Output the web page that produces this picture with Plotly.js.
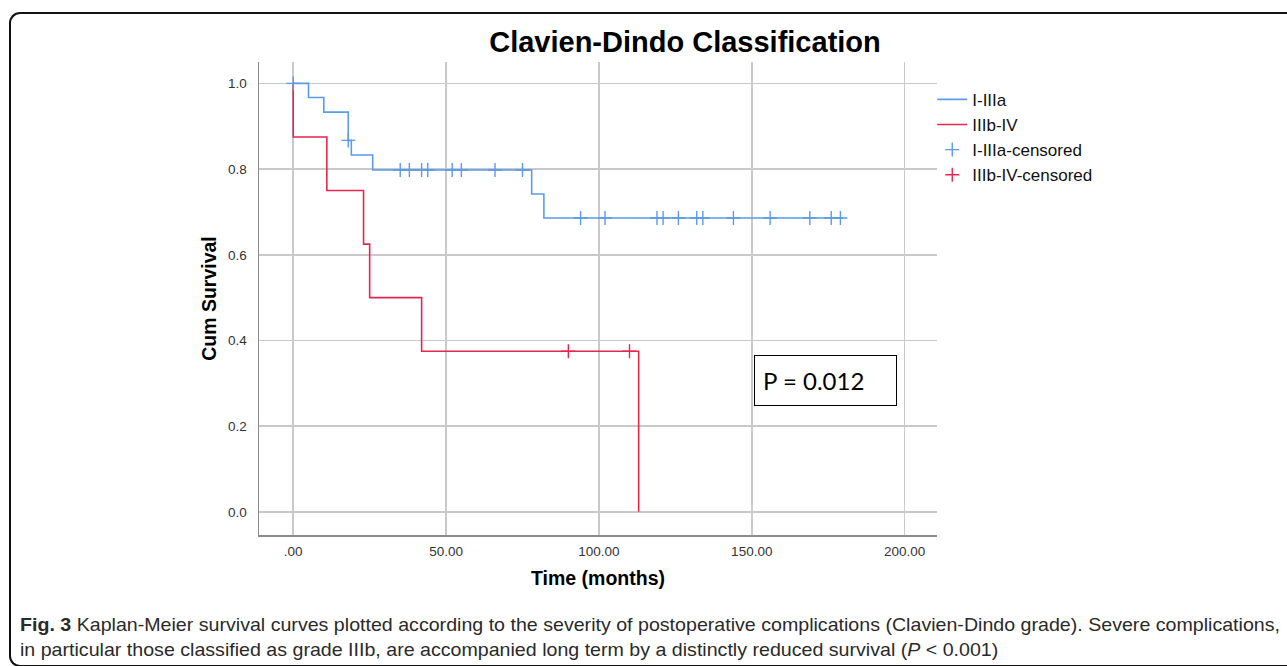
<!DOCTYPE html>
<html>
<head>
<meta charset="utf-8">
<script src="https://cdn.plot.ly/plotly-3.0.1.min.js"></script>
<style>
  html, body { margin: 0; padding: 0; background: #fff; }
  #wrap { position: relative; width: 1287px; height: 666px; overflow: hidden; }
  #chart { position: absolute; left: 0; top: 0; width: 1287px; height: 666px; }
  #frame { position: absolute; left: 9px; top: 12px; width: 1300px; height: 651px;
           border-left: 2px solid #111; border-top: 2px solid #111; border-bottom: 2px solid #111;
           border-top-left-radius: 11px; border-bottom-left-radius: 11px; pointer-events: none; }
  .cap { position: absolute; left: 20px; white-space: nowrap; color: #2a2a2a;
         font-family: "Liberation Sans", Arial, sans-serif;
         font-size: 19px; transform-origin: 0 50%; }
  #cap1 { top: 614px; }
  #cap2 { top: 639px; }
</style>
</head>
<body>
<div id="wrap">
  <div id="chart"></div>
  <div id="frame"></div>
  <div class="cap" id="cap1"><b>Fig. 3</b> Kaplan-Meier survival curves plotted according to the severity of postoperative complications (Clavien-Dindo grade). Severe complications,</div>
  <div class="cap" id="cap2">in particular those classified as grade IIIb, are accompanied long term by a distinctly reduced survival (<i>P</i> &lt; 0.001)</div>
</div>
<script>
// ---- data ----
// Group I-IIIa: step curve (event times in months, survival after each step)
const lowTimes    = [0, 5, 10, 18, 19, 26, 78, 82, 180];
const lowSurv     = [1.0, 0.967, 0.933, 0.867, 0.833, 0.798, 0.742, 0.686, 0.686];
// Group I-IIIa censored observations
const lowCensT    = [0, 18, 35, 38, 42, 44, 52, 55, 66, 75, 94, 102, 119, 121, 126, 132, 134, 144, 156, 169, 176, 179];
const lowCensS    = [1.0, 0.867, 0.798, 0.798, 0.798, 0.798, 0.798, 0.798, 0.798, 0.798, 0.686, 0.686, 0.686, 0.686, 0.686, 0.686, 0.686, 0.686, 0.686, 0.686, 0.686, 0.686];
// Group IIIb-IV: step curve
const highTimes   = [0, 0, 11, 23, 25, 42, 113];
const highSurv    = [1.0, 0.875, 0.75, 0.625, 0.5, 0.375, 0.0];
// Group IIIb-IV censored
const highCensT   = [90, 110];
const highCensS   = [0.375, 0.375];

const xTickVals   = [0, 50, 100, 150, 200];
const xTickText   = ['.00', '50.00', '100.00', '150.00', '200.00'];
const yTickVals   = [0.0, 0.2, 0.4, 0.6, 0.8, 1.0];

const blue = '#5b9be9';
const red  = '#e5264e';

const traces = [
  { x: lowTimes, y: lowSurv, name: 'I-IIIa', mode: 'lines', line: { shape: 'hv', color: blue, width: 1.6 } },
  { x: highTimes, y: highSurv, name: 'IIIb-IV', mode: 'lines', line: { shape: 'hv', color: red, width: 1.6 } },
  { x: lowCensT, y: lowCensS, name: 'I-IIIa-censored', mode: 'markers',
    marker: { symbol: 'cross-thin-open', size: 10, color: blue, line: { color: blue, width: 1.4 } } },
  { x: highCensT, y: highCensS, name: 'IIIb-IV-censored', mode: 'markers',
    marker: { symbol: 'cross-thin-open', size: 10, color: red, line: { color: red, width: 1.4 } } }
];

const tickFont = { family: 'Liberation Sans, Arial, sans-serif', size: 13.5, color: '#333' };
const titleFont = { family: 'Liberation Sans, Arial, sans-serif', size: 19.5, color: '#000', weight: 'bold' };

const layout = {
  width: 1287, height: 666,
  margin: { l: 259, r: 350, t: 62, b: 131, pad: 0 },
  paper_bgcolor: 'rgba(0,0,0,0)', plot_bgcolor: '#fff',
  title: { text: '<b>Clavien-Dindo Classification</b>', xref: 'container', yref: 'container',
           x: 685 / 1287, xanchor: 'center', y: 1 - 42 / 666, yanchor: 'middle',
           font: { family: 'Liberation Sans, Arial, sans-serif', size: 29, color: '#000' } },
  xaxis: {
    range: [-11.2, 210.6], tickvals: xTickVals, ticktext: xTickText,
    showgrid: true, gridcolor: '#c9c9c9', gridwidth: 1.5, zeroline: false,
    showline: true, linecolor: '#8c8c8c', linewidth: 1.5, ticks: '',
    tickfont: tickFont, ticklabelstandoff: 3,
    title: { text: 'Time (months)', font: titleFont, standoff: 13 }
  },
  yaxis: {
    range: [-0.054, 1.05], tickvals: yTickVals, tickformat: '.1f',
    showgrid: true, gridcolor: '#c9c9c9', gridwidth: 1.5, zeroline: false,
    showline: true, linecolor: '#8c8c8c', linewidth: 1.5, ticks: '',
    tickfont: tickFont, ticklabelstandoff: 8,
    title: { text: 'Cum Survival', font: titleFont, standoff: 6 }
  },
  legend: { x: 0.993, xanchor: 'left', y: 0.958, yanchor: 'top', xref: 'paper', yref: 'paper',
            font: { family: 'Liberation Sans, Arial, sans-serif', size: 17, color: '#111' },
            bgcolor: 'rgba(0,0,0,0)', tracegroupgap: 0, itemwidth: 30 },
  showlegend: true,
  annotations: [
    { xref: 'paper', yref: 'paper', x: (825.5 - 259) / 678, y: (535 - 380.5) / 473,
      xanchor: 'center', yanchor: 'middle', text: 'P = 0.012', showarrow: false,
      align: 'left', width: 125, height: 33, borderpad: 8,
      bordercolor: '#000', borderwidth: 1, bgcolor: '#fff',
      font: { family: 'Lato, Carlito, Open Sans, sans-serif', size: 24, color: '#000' } }
  ]
};

Plotly.newPlot('chart', traces, layout, { displayModeBar: false, staticPlot: true }).then(() => {
  // fit caption line 1 to the reference width
  const c1 = document.getElementById('cap1');
  const c2 = document.getElementById('cap2');
  const target = 1260;
  const w = c1.getBoundingClientRect().width;
  const s = target / w;
  c1.style.transform = 'scaleX(' + s + ')';
  c2.style.transform = 'scaleX(' + s + ')';
});
</script>
</body>
</html>
